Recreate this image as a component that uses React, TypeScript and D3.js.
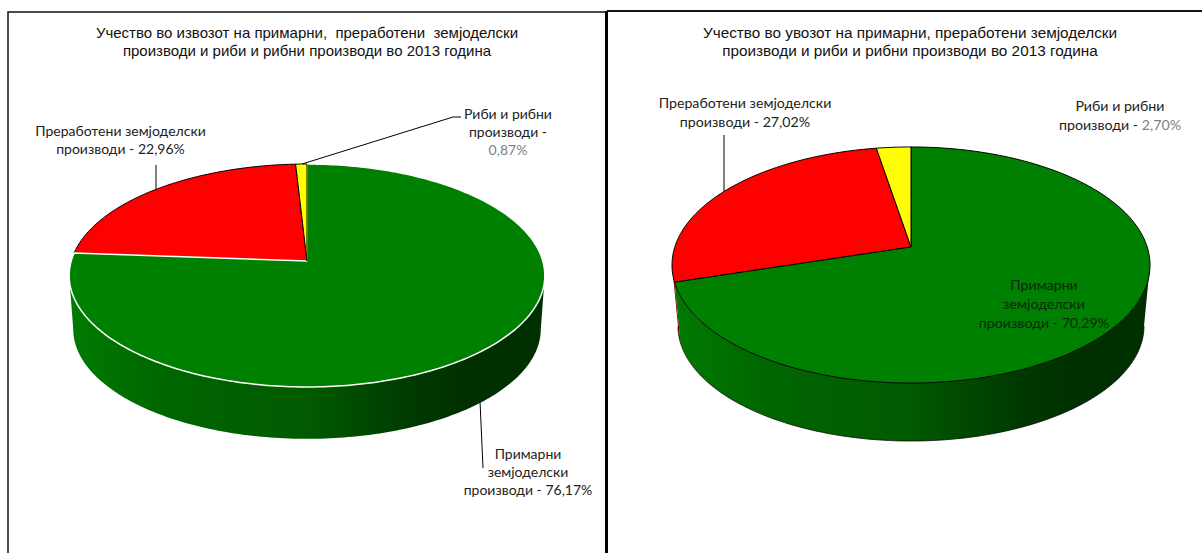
import React from "react";
import * as d3 from "d3";

const categories = ["Примарни земјоделски производи", "Преработени земјоделски производи", "Риби и рибни производи"];
const exportShares = [76.17, 22.96, 0.87];
const importShares = [70.29, 27.02, 2.7];
const sliceColors = ["#008000", "#ff0000", "#ffff00"];
const sideBaseColors = ["#008000", "#8a0000", "#8a8a00"];
const sideShades = ["#007a00", "#006600", "#005a00", "#003a00", "#003000", "#003000"];
const sideShadeStops = [0, 0.2, 0.5, 0.72, 0.85, 1];
const exportTitle = ["Учество во извозот на примарни,  преработени  земјоделски", "производи и риби и рибни производи во 2013 година"];
const importTitle = ["Учество во увозот на примарни, преработени земјоделски", "производи и риби и рибни производи во 2013 година"];

const SERIF = "'Liberation Sans', Arial, sans-serif";
const LABEL = "Lato, 'Open Sans', sans-serif";

type Geo = { id: string; cx: number; cy: number; R: number; S: number; k: number; depth: number; shrink: number };
type LabelLayout = { slice: number; x: number; y: number[]; lines: string[] };

const pieGen = d3.pie<number>().sort(null);
const lineGen = d3.line<[number, number]>();
const fmt = (v: number) => v.toFixed(2).replace(".", ",") + "%";

function project(g: Geo, a: number, bottom = false): [number, number] {
  const u = Math.sin(a);
  const v = -Math.cos(a);
  const d = 1 - g.k * v;
  const s = bottom ? g.shrink : 1;
  return [g.cx + (g.R * s * u) / d, g.cy + (bottom ? g.depth : 0) + (g.S * s * v) / d];
}

function arcPoints(g: Geo, a0: number, a1: number, bottom = false) {
  const n = Math.max(2, Math.ceil(((a1 - a0) * 180) / Math.PI));
  return d3.range(n + 1).map((i) => project(g, a0 + ((a1 - a0) * i) / n, bottom));
}

function Pie({ g, values, frame, strokes }: { g: Geo; values: number[]; frame: string; strokes: "export" | "import" }) {
  const arcs = pieGen(values);
  const order = [1, 0, 2];
  const shade = (c: string, i: number) => d3.interpolateRgb(c, "#000")(1 - d3.rgb(sideShades[i]).g / 128);
  // only the front of the rim is visible: from the widest point on the right to the widest on the left
  const visFrom = Math.acos(-g.k);
  const visTo = 2 * Math.PI - visFrom;
  return (
    <g>
      <defs>
        {sideBaseColors.map((c, s) => (
          <linearGradient key={s} id={`${frame}-side-${s}`} gradientUnits="userSpaceOnUse" x1={g.cx - g.R} x2={g.cx + g.R} y1={0} y2={0}>
            {sideShades.map((_, i) => (
              <stop key={i} offset={sideShadeStops[i]} stopColor={shade(c, i)} />
            ))}
          </linearGradient>
        ))}
      </defs>
      {arcs.map((d, i) => {
        const a0 = Math.max(d.startAngle, visFrom);
        const a1 = Math.min(d.endAngle, visTo);
        if (a1 <= a0) return null;
        const top = arcPoints(g, a0, a1);
        const bot = arcPoints(g, a0, a1, true).reverse();
        return <path key={i} d={lineGen([...top, ...bot]) + "Z"} fill={`url(#${frame}-side-${i})`} />;
      })}
      {strokes === "import" && (
        <path d={lineGen(arcPoints(g, visFrom, visTo, true)) as string} fill="none" stroke="#000" strokeWidth={0.7} />
      )}
      {order.map((i) => {
        const d = arcs[i];
        const pts: [number, number][] = [[g.cx, g.cy], ...arcPoints(g, d.startAngle, d.endAngle)];
        const stroke = strokes === "export" && i === 0 ? "#fff" : "#000";
        const w = strokes === "export" && i === 0 ? 1.5 : 1;
        return <path key={i} d={lineGen(pts) + "Z"} fill={sliceColors[i]} stroke={stroke} strokeWidth={w} strokeLinejoin="round" />;
      })}
    </g>
  );
}

function Label({ l, value, inside, size }: { l: LabelLayout; value: number; inside?: boolean; size: number }) {
  const gray = l.slice === 2;
  return (
    <text fontFamily={LABEL} fontSize={size} fill={inside ? "#0a2a0a" : "#222"} textAnchor="middle">
      {l.lines.map((t, i) => (
        <tspan key={i} x={l.x} y={l.y[i]}>
          {t}
          {i === l.lines.length - 1 && !gray ? fmt(value) : null}
          {i === l.lines.length - 1 && gray ? <tspan fill="#7f7f7f">{fmt(value)}</tspan> : null}
        </tspan>
      ))}
    </text>
  );
}

const exportGeo: Geo = { id: "e", cx: 307, cy: 261, R: 235.8, S: 109.6, k: 0.13, depth: 54, shrink: 0.983 };
const importGeo: Geo = { id: "i", cx: 911, cy: 247, R: 236.2, S: 115.3, k: 0.1525, depth: 61.4, shrink: 0.975 };

const exportLabels: LabelLayout[] = [
  { slice: 0, x: 528, y: [459, 477, 495], lines: ["Примарни", "земјоделски", "производи - "] },
  { slice: 1, x: 120.5, y: [136, 154], lines: ["Преработени земјоделски", "производи - "] },
  { slice: 2, x: 508, y: [119, 137, 155], lines: ["Риби и рибни", "производи -", ""] },
];
const importLabels: LabelLayout[] = [
  { slice: 0, x: 1044, y: [290, 309, 328], lines: ["Примарни", "земјоделски", "производи - "] },
  { slice: 1, x: 745, y: [108, 127], lines: ["Преработени земјоделски", "производи - "] },
  { slice: 2, x: 1120, y: [111, 130], lines: ["Риби и рибни", "производи - "] },
];

const leaders: [number, number][][] = [
  [[156, 165], [156, 191]],
  [[302, 164], [453, 117], [461, 117]],
  [[480, 401], [483, 468]],
  [[724, 135], [724, 192]],
];

function Title({ lines, x, size }: { lines: string[]; x: number; size: number }) {
  return (
    <text fontFamily={SERIF} fontSize={size} fill="#111" textAnchor="middle" xmlSpace="preserve">
      {lines.map((t, i) => (
        <tspan key={i} x={x} y={38 + i * 18}>
          {t}
        </tspan>
      ))}
    </text>
  );
}

export default function App() {
  return (
    <svg width={1202} height={553} style={{ position: "absolute", left: 0, top: 0, display: "block", background: "#fff" }}>
      <path d="M8 553V12H606" fill="none" stroke="#111" strokeWidth={1.5} />
      <path d="M606.5 553V11" fill="none" stroke="#000" strokeWidth={3} />
      <path d="M607 11H1202" fill="none" stroke="#111" strokeWidth={2} />
      <Title lines={exportTitle} x={307} size={15} />
      <Title lines={importTitle} x={910} size={15.3} />
      {leaders.map((p, i) => (
        <path key={i} d={lineGen(p) as string} fill="none" stroke="#000" strokeWidth={1} />
      ))}
      <Pie g={exportGeo} values={exportShares} frame="e" strokes="export" />
      <Pie g={importGeo} values={importShares} frame="i" strokes="import" />
      {exportLabels.map((l) => (
        <Label key={l.slice} l={l} value={exportShares[l.slice]} size={14} />
      ))}
      {importLabels.map((l) => (
        <Label key={l.slice} l={l} value={importShares[l.slice]} inside={l.slice === 0} size={14.2} />
      ))}
      <title>{categories.join(", ")}</title>
    </svg>
  );
}
